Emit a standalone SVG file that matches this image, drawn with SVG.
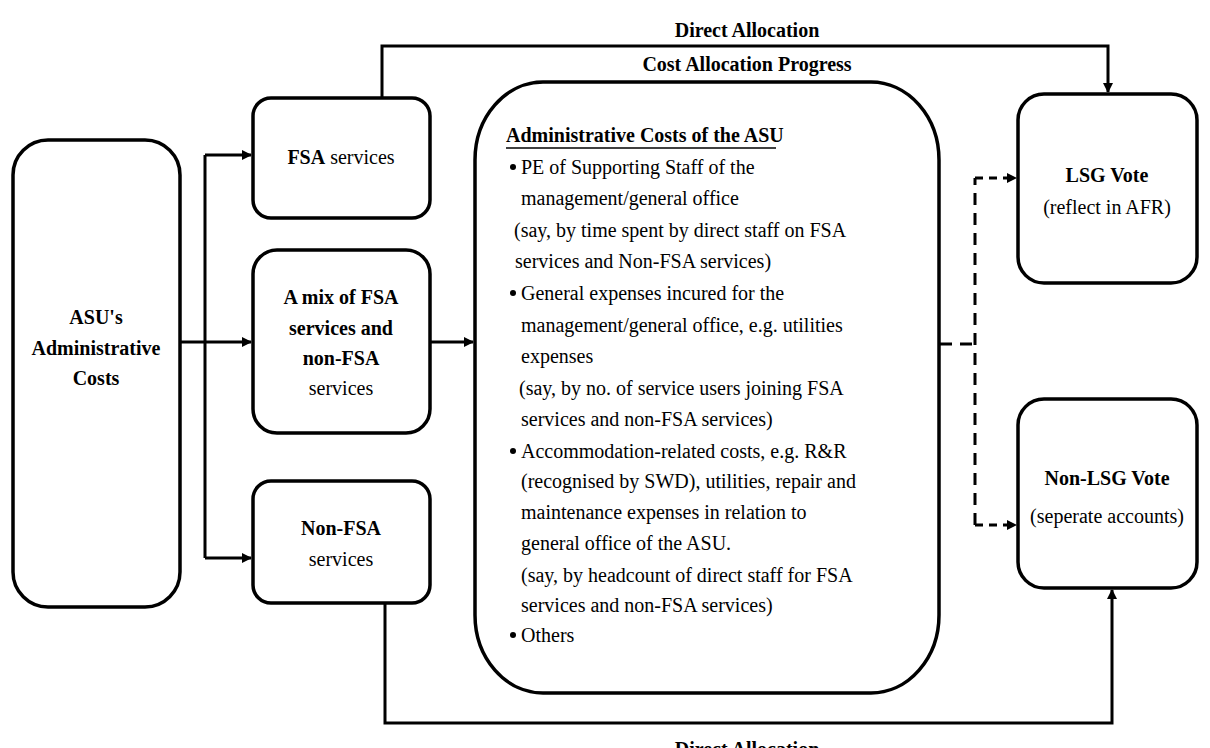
<svg xmlns="http://www.w3.org/2000/svg" width="1210" height="748" viewBox="0 0 1210 748">
<defs>
<marker id="arr" viewBox="0 0 10 10" markerWidth="10" markerHeight="10" refX="9" refY="5" orient="auto" markerUnits="userSpaceOnUse">
<path d="M0,0 L10,5 L0,10 z" fill="#000"/>
</marker>
<style>
.box{fill:#fff;stroke:#000;stroke-width:3.5}
.con{fill:none;stroke:#000;stroke-width:3}
.dash{fill:none;stroke:#000;stroke-width:3;stroke-dasharray:12 8}
text{font-family:"Liberation Serif","Times New Roman",serif;font-size:20px;fill:#000}
.b{font-weight:bold}
.c{text-anchor:middle}
</style>
</defs>
<rect width="1210" height="748" fill="#fff"/>

<g id="connectors">
<path class="con" d="M180,342 H251" marker-end="url(#arr)"/>
<path class="con" d="M205,155 V558"/>
<path class="con" d="M205,155 H251" marker-end="url(#arr)"/>
<path class="con" d="M205,558 H251" marker-end="url(#arr)"/>
<path class="con" d="M430,342 H473" marker-end="url(#arr)"/>
<path class="con" d="M382,98 V46 H1108 V92" marker-end="url(#arr)"/>
<path class="con" d="M385,603 V723 H1112 V590" marker-end="url(#arr)"/>
<path class="dash" d="M940,344 H975"/>
<path class="dash" d="M975,525 V178"/>
<path class="con" d="M975,178 H1016" stroke-dasharray="8 6" marker-end="url(#arr)"/>
<path class="con" d="M975,525 H1016" stroke-dasharray="8 6" marker-end="url(#arr)"/>
<text class="b c" x="747" y="37">Direct Allocation</text>
<text class="b c" x="747" y="71">Cost Allocation Progress</text>
<text class="b c" x="747" y="756">Direct Allocation</text>
</g>

<g id="asu">
<rect class="box" x="13" y="140" width="167" height="467" rx="35"/>
<text class="b c" x="96" y="324">ASU's</text>
<text class="b c" x="96" y="355">Administrative</text>
<text class="b c" x="96" y="385">Costs</text>
</g>

<g id="fsa">
<rect class="box" x="253" y="98" width="177" height="120" rx="18"/>
<text class="c" x="341" y="164"><tspan class="b">FSA</tspan> services</text>
</g>

<g id="mix">
<rect class="box" x="253" y="250" width="177" height="183" rx="24"/>
<text class="b c" x="341" y="304">A mix of FSA</text>
<text class="b c" x="341" y="335">services and</text>
<text class="b c" x="341" y="365">non-FSA</text>
<text class="c" x="341" y="395">services</text>
</g>

<g id="nonfsa">
<rect class="box" x="253" y="481" width="177" height="122" rx="18"/>
<text class="b c" x="341" y="535">Non-FSA</text>
<text class="c" x="341" y="566">services</text>
</g>

<g id="admin">
<rect class="box" x="475" y="82" width="464" height="611" rx="68" ry="78"/>
<text class="b" x="506" y="142">Administrative Costs of the ASU</text>
<line x1="506" y1="148" x2="776" y2="148" stroke="#000" stroke-width="1.5"/>
<circle cx="513" cy="167" r="3"/>
<text x="521" y="174">PE of Supporting Staff of the</text>
<text x="521" y="205">management/general office</text>
<text x="514" y="237">(say, by time spent by direct staff on FSA</text>
<text x="515" y="268">services and Non-FSA services)</text>
<circle cx="513" cy="293" r="3"/>
<text x="521" y="300">General expenses incured for the</text>
<text x="521" y="332">management/general office, e.g. utilities</text>
<text x="521" y="363">expenses</text>
<text x="519" y="395">(say, by no. of service users joining FSA</text>
<text x="521" y="426">services and non-FSA services)</text>
<circle cx="513" cy="451" r="3"/>
<text x="521" y="458">Accommodation-related costs, e.g. R&amp;R</text>
<text x="521" y="488">(recognised by SWD), utilities, repair and</text>
<text x="521" y="519">maintenance expenses in relation to</text>
<text x="521" y="550">general office of the ASU.</text>
<text x="521" y="582">(say, by headcount of direct staff for FSA</text>
<text x="521" y="612">services and non-FSA services)</text>
<circle cx="513" cy="635" r="3"/>
<text x="521" y="642">Others</text>
</g>

<g id="lsg">
<rect class="box" x="1018" y="94" width="179" height="189" rx="26"/>
<text class="b c" x="1107" y="182">LSG Vote</text>
<text class="c" x="1107" y="214">(reflect in AFR)</text>
</g>

<g id="nonlsg">
<rect class="box" x="1018" y="399" width="179" height="189" rx="26"/>
<text class="b c" x="1107" y="485">Non-LSG Vote</text>
<text class="c" x="1107" y="523">(seperate accounts)</text>
</g>
</svg>
